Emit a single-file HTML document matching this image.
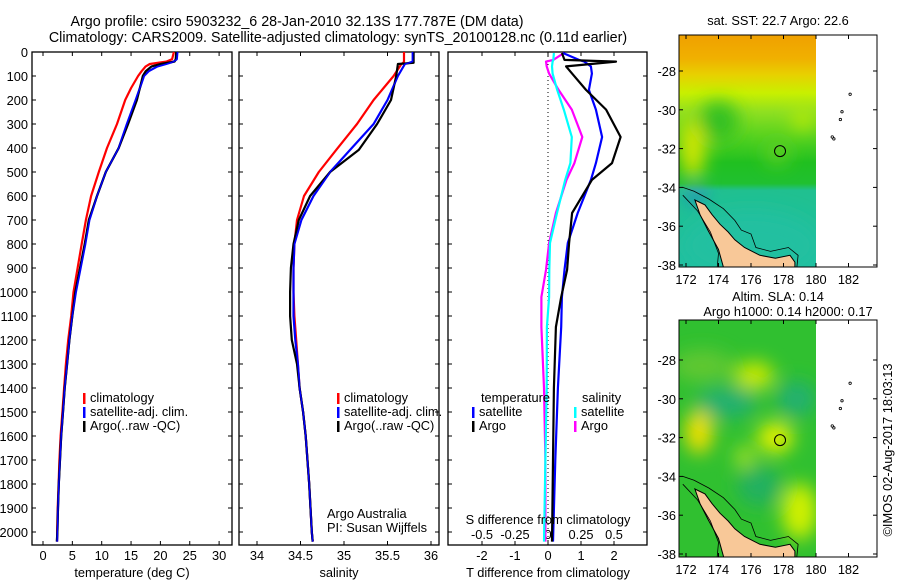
<!DOCTYPE html>
<html><head><meta charset="utf-8"><style>
body{margin:0;background:#fff;}
svg{display:block;font-family:"Liberation Sans",sans-serif;font-size:12.8px;}
</style></head><body>
<svg id="c" width="900" height="580" viewBox="0 0 900 580">
<defs>
<filter id="bl" x="-50%" y="-50%" width="200%" height="200%"><feGaussianBlur stdDeviation="9"/></filter>
<clipPath id="cm1"><rect x="679" y="35" width="137" height="232"/></clipPath>
<clipPath id="cm2"><rect x="679" y="320" width="137" height="237"/></clipPath>
<linearGradient id="sstg" x1="0" y1="0" x2="0" y2="1">
<stop offset="0" stop-color="#f0a000"/><stop offset="0.1" stop-color="#f0b000"/><stop offset="0.17" stop-color="#e8d000"/><stop offset="0.25" stop-color="#c8f000"/><stop offset="0.33" stop-color="#90e020"/><stop offset="0.45" stop-color="#50d020"/><stop offset="0.55" stop-color="#20c020"/><stop offset="0.64" stop-color="#20c030"/><stop offset="0.67" stop-color="#20c090"/><stop offset="1" stop-color="#20c0a0"/>
</linearGradient>
</defs>
<text x="297" y="26" text-anchor="middle" style="font-size:14.3px">Argo profile: csiro 5903232_6 28-Jan-2010 32.13S 177.787E (DM data)</text>
<text x="338" y="42" text-anchor="middle" style="font-size:14.3px">Climatology: CARS2009. Satellite-adjusted climatology: synTS_20100128.nc (0.11d earlier)</text>
<g id="plots"></g>
<g id="maps"></g>
<text transform="translate(892,450) rotate(-90)" text-anchor="middle">©IMOS 02-Aug-2017 18:03:13</text>
</svg>
<script>
// ---- data ----
const tDepth=[0,30,40,50,60,80,100,150,200,300,400,500,600,700,800,900,1000,1100,1200,1300,1400,1500,1600,1700,1800,1900,2000,2040];
const tClim=[22.3,22.0,21.0,18.2,17.5,16.8,16.2,15.0,14.0,12.6,10.9,9.5,8.2,7.3,6.6,5.9,5.2,4.8,4.3,3.9,3.6,3.3,3.0,2.8,2.65,2.5,2.4,2.4];
const tSat=[22.9,22.8,22.3,21.0,19.5,18.0,17.2,16.5,15.8,14.3,12.9,10.7,9.2,7.9,7.2,6.4,5.6,5.0,4.5,4.1,3.7,3.4,3.1,2.9,2.7,2.55,2.45,2.4];
const tArgo=[22.7,22.6,22.4,20.0,18.5,17.5,17.0,16.5,16.0,14.5,12.9,10.7,9.2,7.8,7.1,6.3,5.5,5.0,4.5,4.1,3.7,3.4,3.1,2.9,2.7,2.55,2.45,2.35];
const sDepth=[0,40,45,50,100,200,300,408,500,600,700,800,900,1000,1100,1200,1300,1400,1500,1600,1800,2000,2040];
const sClim=[35.69,35.69,35.68,35.66,35.57,35.34,35.15,34.91,34.71,34.54,34.46,34.43,34.42,34.42,34.43,34.45,34.47,34.49,34.53,34.56,34.60,34.63,34.64];
const sSat=[35.79,35.79,35.75,35.70,35.62,35.50,35.34,35.07,34.84,34.65,34.51,34.43,34.42,34.42,34.42,34.44,34.47,34.49,34.53,34.56,34.60,34.63,34.64];
const sArgo=[35.80,35.80,35.80,35.62,35.60,35.54,35.38,35.17,34.84,34.61,34.48,34.42,34.39,34.38,34.38,34.40,34.46,34.49,34.53,34.56,34.60,34.63,34.64];
const dDepth=[4,33,40,60,90,158,240,354,463,533,671,796,908,1021,1146,1400,1700,2040];
const dtArgo=[0.42,0.5,2.06,0.55,0.73,1.15,1.76,2.2,1.94,1.33,0.73,0.64,0.58,0.4,0.24,0.18,0.15,0.12];
const dtSat=[0.45,0.94,1.1,1.3,1.33,1.24,1.45,1.64,1.45,1.3,0.9,0.6,0.5,0.42,0.4,0.3,0.22,0.15];
const dsArgo=[0.12,0.04,-0.015,-0.01,0.008,0.08,0.18,0.26,0.2,0.14,0.06,0.008,-0.015,-0.05,-0.05,-0.03,-0.02,-0.02];
const dsSat=[0.045,0.04,0.035,0.03,0.035,0.07,0.12,0.18,0.17,0.13,0.068,0.015,0.01,0.008,-0.008,-0.01,-0.02,-0.03];
const depthTicks=[0,100,200,300,400,500,600,700,800,900,1000,1100,1200,1300,1400,1500,1600,1700,1800,1900,2000];
const tTicks=[0,5,10,15,20,25,30];
const sTicks=[34,34.5,35,35.5,36];
const dtTicks=[-2,-1,0,1,2];
const dsTickLabels=["-0.5","-0.25","0","0.25","0.5"];
const dsTicks=[-0.5,-0.25,0,0.25,0.5];
const latTicks=[-28,-30,-32,-34,-36,-38];
const lonTicks=[172,174,176,178,180,182];
const argoPos=[177.787,-32.13];
const islands=[[182.1,-29.2],[181.6,-30.1],[181.5,-30.5],[181.0,-31.4],[181.1,-31.5]];
const land=[[172.55,-34.65],[173.17,-34.9],[173.6,-35.4],[174.1,-35.9],[174.6,-36.3],[175.0,-36.7],[175.6,-37.1],[176.55,-37.5],[177.5,-37.65],[178.4,-37.5],[178.7,-37.85],[178.7,-38.4],[174.4,-38.4],[174.0,-37.2],[173.35,-36.2],[172.86,-35.4]];
const coastLine=[[171.8,-34.0],[172.5,-34.2],[173.4,-34.6],[174.3,-35.1],[175.0,-35.7],[175.4,-36.2],[176.0,-36.4],[176.3,-37.1],[177.2,-37.3],[178.3,-37.1],[178.9,-37.5],[178.8,-38.3]];
const coastWest=[[171.8,-34.4],[172.7,-35.2],[173.5,-36.3],[174.0,-37.4],[173.9,-38.3]];

const NS="http://www.w3.org/2000/svg";
function el(tag,attrs,parent,txt){const e=document.createElementNS(NS,tag);for(const k in attrs)e.setAttribute(k,attrs[k]);if(txt!==undefined)e.textContent=txt;parent.appendChild(e);return e;}
const plots=document.getElementById('plots');
const yD=d=>52+d*0.24;
const pTop=52,pBot=545;

function panel(x0,x1,name){
  const r=el('rect',{x:x0,y:pTop,width:x1-x0,height:pBot-pTop,fill:'none',stroke:'#000','stroke-width':1.3},plots);
  
  
  depthTicks.forEach(d=>{
    el('line',{x1:x0,x2:x0+4,y1:yD(d),y2:yD(d),stroke:'#000'},plots);
    el('line',{x1:x1-4,x2:x1,y1:yD(d),y2:yD(d),stroke:'#000'},plots);
  });
}
function line(xs,ds,xf,color,name,w){
  let p='';xs.forEach((v,i)=>{p+=(i?'L':'M')+xf(v).toFixed(1)+','+yD(ds[i]).toFixed(1);});
  const e=el('path',{d:p,fill:'none',stroke:color,'stroke-width':w||2.2,'stroke-linejoin':'round'},plots);
  
  
}
function legendItem(x,y,color,txt,name){
  el('rect',{x:x,y:y-9,width:2.5,height:11,fill:color},plots);
  const t=el('text',{x:x+7,y:y},plots,txt);
  
  
}
depthTicks.forEach(d=>{const t=el('text',{x:28,y:yD(d)+5,'text-anchor':'end'},plots,String(d));
  
  });

// temperature panel
const xT=v=>43+v*5.87;
panel(32,232,'temperature-panel');
tTicks.forEach(v=>{el('line',{x1:xT(v),x2:xT(v),y1:pBot,y2:pBot-4,stroke:'#000'},plots);el('line',{x1:xT(v),x2:xT(v),y1:pTop,y2:pTop+4,stroke:'#000'},plots);
  const t=el('text',{x:xT(v),y:560,'text-anchor':'middle'},plots,String(v));
  
  });
line(tClim,tDepth,xT,'#f00','temperature-climatology-line');
line(tSat,tDepth,xT,'#00f','temperature-satellite-line');
line(tArgo,tDepth,xT,'#000','temperature-argo-line');
line(tSat,tDepth,xT,'#00f','temperature-satellite-line-top',1.4);
legendItem(83,402,'#f00','climatology','legend-climatology');
legendItem(83,416,'#00f','satellite-adj. clim.','legend-satellite');
legendItem(83,430,'#000','Argo(..raw -QC)','legend-argo');
let t=el('text',{x:132,y:577,'text-anchor':'middle'},plots,'temperature (deg C)');


// salinity panel
const xS=v=>257+(v-34)*87;
panel(239,439,'salinity-panel');
sTicks.forEach(v=>{el('line',{x1:xS(v),x2:xS(v),y1:pBot,y2:pBot-4,stroke:'#000'},plots);el('line',{x1:xS(v),x2:xS(v),y1:pTop,y2:pTop+4,stroke:'#000'},plots);
  const t=el('text',{x:xS(v),y:560,'text-anchor':'middle'},plots,String(v));
  
  });
line(sClim,sDepth,xS,'#f00','salinity-climatology-line');
line(sSat,sDepth,xS,'#00f','salinity-satellite-line');
line(sArgo,sDepth,xS,'#000','salinity-argo-line');
line(sSat,sDepth,xS,'#00f','salinity-satellite-line-top',1.4);
legendItem(337,402,'#f00','climatology','legend-climatology-s');
legendItem(337,416,'#00f','satellite-adj. clim.','legend-satellite-s');
legendItem(337,430,'#000','Argo(..raw -QC)','legend-argo-s');
t=el('text',{x:327,y:518},plots,'Argo Australia');
t=el('text',{x:327,y:532},plots,'PI: Susan Wijffels');
t=el('text',{x:339,y:577,'text-anchor':'middle'},plots,'salinity');

// difference panel
const xDT=v=>548+v*33;
const xDS=v=>548+v*132;
panel(448,647,'difference-panel');
dtTicks.forEach(v=>{el('line',{x1:xDT(v),x2:xDT(v),y1:pBot,y2:pBot-4,stroke:'#000'},plots);el('line',{x1:xDT(v),x2:xDT(v),y1:pTop,y2:pTop+4,stroke:'#000'},plots);
  const t=el('text',{x:xDT(v),y:560,'text-anchor':'middle'},plots,String(v));
  
  });
dsTicks.forEach((v,i)=>{const t=el('text',{x:xDS(v),y:539,'text-anchor':'middle'},plots,dsTickLabels[i]);
  
  });
el('line',{x1:xDT(0),x2:xDT(0),y1:pTop,y2:pBot,stroke:'#000','stroke-dasharray':'1,3'},plots);
line(dsArgo,dDepth,xDS,'#f0f','s-diff-argo-line');
line(dsSat,dDepth,xDS,'#0ff','s-diff-satellite-line');
line(dtSat,dDepth,xDT,'#00f','t-diff-satellite-line');
line(dtArgo,dDepth,xDT,'#000','t-diff-argo-line');
t=el('text',{x:481,y:402},plots,'temperature');
t=el('text',{x:582,y:402},plots,'salinity');
legendItem(472,416,'#00f','satellite','legend-t-satellite');
legendItem(472,430,'#000','Argo','legend-t-argo');
legendItem(574,416,'#0ff','satellite','legend-s-satellite');
legendItem(574,430,'#f0f','Argo','legend-s-argo');
t=el('text',{x:548,y:524,'text-anchor':'middle'},plots,'S difference from climatology');
t=el('text',{x:548,y:577,'text-anchor':'middle'},plots,'T difference from climatology');

// ---- maps ----
const maps=document.getElementById('maps');
function drawMap(boxTop,boxBot,latRef,clip,name,blobs,base){
  const X=lon=>686+(lon-172)*16.25;
  const Y=lat=>latRef+(-28-lat)*19.4;
  const g=el('g',{'clip-path':'url(#'+clip+')'},maps);
  
  
  el('rect',{x:679,y:boxTop,width:137,height:boxBot-boxTop,fill:base},g);
  const gb=el('g',{filter:'url(#bl)'},g);
  blobs.forEach(b=>el('ellipse',{cx:X(b[0]),cy:Y(b[1]),rx:b[2],ry:b[3],fill:b[4]},gb));
  const pts=land.map(p=>X(p[0]).toFixed(1)+','+Y(p[1]).toFixed(1)).join(' ');
  const lp=el('polygon',{points:pts,fill:'#f8c898',stroke:'#000','stroke-width':1},g);
  
  
  [coastLine,coastWest].forEach(c=>el('polyline',{points:c.map(p=>X(p[0]).toFixed(1)+','+Y(p[1]).toFixed(1)).join(' '),fill:'none',stroke:'#000','stroke-width':0.8},g));
  const fr=el('rect',{x:679,y:boxTop,width:198,height:boxBot-boxTop,fill:'none',stroke:'#000'},maps);
  
  
  islands.forEach(p=>el('circle',{cx:X(p[0]),cy:Y(p[1]),r:1.2,fill:'none',stroke:'#000','stroke-width':0.8},maps));
  const c=el('circle',{cx:X(argoPos[0]),cy:Y(argoPos[1]),r:5.5,fill:'none',stroke:'#000','stroke-width':1},maps);
  
  
  latTicks.forEach(l=>{const y=Y(l);if(y<boxTop||y>boxBot+2)return;
    el('line',{x1:679,x2:683,y1:y,y2:y,stroke:'#000'},maps);el('line',{x1:873,x2:877,y1:y,y2:y,stroke:'#000'},maps);
    const t=el('text',{x:676,y:y+5,'text-anchor':'end'},maps,String(l));
    
    });
  lonTicks.forEach(l=>{const x=X(l);
    el('line',{x1:x,x2:x,y1:boxBot,y2:boxBot-4,stroke:'#000'},maps);el('line',{x1:x,x2:x,y1:boxTop,y2:boxTop+4,stroke:'#000'},maps);
    const t=el('text',{x:x,y:boxBot+17,'text-anchor':'middle'},maps,String(l));
    
    });
}
drawMap(35,267,71,'cm1','sst-map',[
  [172.4,-32.0,12,30,'#d8e800'],[174.0,-30.6,20,20,'#30c020'],[177.6,-32.2,12,12,'#60d020'],
  [179.2,-30.5,10,10,'#c0ec00'],
  [172.6,-34.4,7,7,'#2060e0'],[176,-37,70,35,'#20c0a0']],'url(#sstg)');
drawMap(320,557,360,'cm2','sla-map',[
  [172.8,-31.7,14,22,'#f0e000'],[177.5,-32.0,18,16,'#e0f000'],[175.6,-33,10,12,'#a0e020'],
  [179.0,-35.8,18,28,'#d0f000'],[174.5,-30.2,30,16,'#20b070'],[178.8,-30,20,18,'#20b070'],
  [176.5,-34.5,22,20,'#20b060'],[173.0,-28.3,30,16,'#60c830'],[176.2,-28.8,20,14,'#c8e800']],'#30c030');
let mt=el('text',{x:778,y:25,'text-anchor':'middle'},maps,'sat. SST: 22.7 Argo: 22.6');

mt=el('text',{x:778,y:301,'text-anchor':'middle'},maps,'Altim. SLA: 0.14');

mt=el('text',{x:788,y:316,'text-anchor':'middle'},maps,'Argo h1000: 0.14 h2000: 0.17');

</script>
</body></html>
